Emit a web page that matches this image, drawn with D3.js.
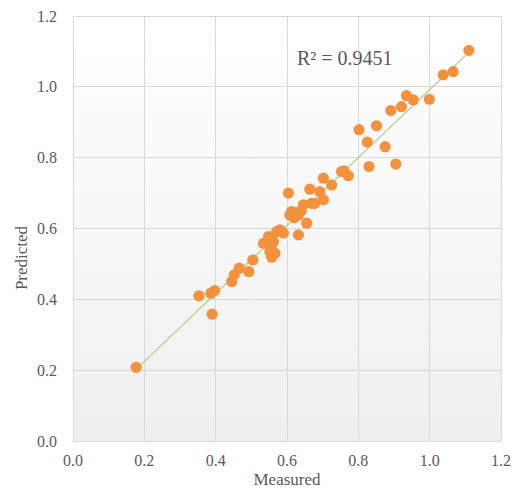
<!DOCTYPE html>
<html><head><meta charset="utf-8">
<script src="https://cdn.jsdelivr.net/npm/d3@7"></script>
<style>body{margin:0;background:#fff}svg{display:block}</style>
</head><body>
<svg id="c" width="513" height="490"></svg>
<script>
const measured = [
0.177, 0.353, 0.386, 0.397, 0.390, 0.445, 0.452, 0.466, 0.493, 0.504,
0.534, 0.548, 0.552, 0.557, 0.557, 0.562, 0.566, 0.571, 0.580, 0.590,
0.604, 0.608, 0.613, 0.620, 0.632, 0.632, 0.646, 0.655, 0.664, 0.669,
0.678, 0.692, 0.702, 0.702, 0.725, 0.753, 0.760, 0.772, 0.802, 0.825,
0.830, 0.851, 0.875, 0.891, 0.905, 0.921, 0.935, 0.954, 0.999, 1.038,
1.066, 1.110, 0.625, 0.640];
const predicted = [
0.208, 0.410, 0.417, 0.425, 0.358, 0.450, 0.469, 0.488, 0.478, 0.511,
0.558, 0.577, 0.535, 0.519, 0.540, 0.563, 0.530, 0.591, 0.596, 0.587,
0.700, 0.638, 0.648, 0.630, 0.638, 0.582, 0.667, 0.615, 0.711, 0.671,
0.671, 0.704, 0.742, 0.681, 0.723, 0.761, 0.763, 0.749, 0.879, 0.844,
0.775, 0.890, 0.831, 0.933, 0.782, 0.944, 0.975, 0.963, 0.965, 1.034,
1.043, 1.103, 0.645, 0.650];
const xTicks = [0, 0.2, 0.4, 0.6, 0.8, 1.0, 1.2];
const yTicks = [0, 0.2, 0.4, 0.6, 0.8, 1.0, 1.2];
const r2Label = "R² = 0.9451";
const xTitle = "Measured", yTitle = "Predicted";

const svg = d3.select("#c");
const L = 73, R = 501, T = 16, B = 441;
const x = d3.scaleLinear().domain([0, 1.2]).range([L, R]);
const y = d3.scaleLinear().domain([0, 1.2]).range([B, T]);
const font = "'Liberation Serif','Times New Roman',serif";

const defs = svg.append("defs");
const g = defs.append("linearGradient").attr("id","bg").attr("x1",0).attr("y1",0).attr("x2",0).attr("y2",1);
g.append("stop").attr("offset","0%").attr("stop-color","#ffffff");
g.append("stop").attr("offset","100%").attr("stop-color","#efefef");
svg.append("rect").attr("x",L).attr("y",T).attr("width",R-L).attr("height",B-T).attr("fill","url(#bg)");

svg.append("g").selectAll("line").data(xTicks).join("line")
  .attr("x1",d=>x(d)).attr("x2",d=>x(d)).attr("y1",T).attr("y2",B)
  .attr("stroke","#d9d9d9").attr("stroke-width",1).attr("shape-rendering","crispEdges");
svg.append("g").selectAll("line").data(yTicks).join("line")
  .attr("y1",d=>y(d)).attr("y2",d=>y(d)).attr("x1",L).attr("x2",R)
  .attr("stroke","#d9d9d9").attr("stroke-width",1).attr("shape-rendering","crispEdges");

svg.append("g").selectAll("text").data(xTicks).join("text")
  .attr("x",d=>x(d)).attr("y",466).attr("text-anchor","middle")
  .attr("font-family",font).attr("font-size",16).attr("fill","#595959")
  .text(d=>d.toFixed(1));
svg.append("g").selectAll("text").data(yTicks).join("text")
  .attr("x",57).attr("y",d=>y(d)+5.5).attr("text-anchor","end")
  .attr("font-family",font).attr("font-size",16).attr("fill","#595959")
  .text(d=>d.toFixed(1));

// linear trendline
const n = measured.length;
const mx = d3.mean(measured), my = d3.mean(predicted);
let sxy = 0, sxx = 0;
for (let i=0;i<n;i++){ sxy += (measured[i]-mx)*(predicted[i]-my); sxx += (measured[i]-mx)**2; }
const slope = sxy/sxx, icpt = my - slope*mx;
const x0 = d3.min(measured), x1 = d3.max(measured);
svg.append("line").attr("x1",x(x0)).attr("y1",y(icpt+slope*x0))
  .attr("x2",x(x1)).attr("y2",y(icpt+slope*x1))
  .attr("stroke","#b4cf8c").attr("stroke-width",1.2);

svg.append("g").selectAll("circle").data(measured).join("circle")
  .attr("cx",d=>x(d)).attr("cy",(d,i)=>y(predicted[i])).attr("r",5.6)
  .attr("fill","#f4913c");

svg.append("text").attr("x",297).attr("y",65).attr("font-family",font)
  .attr("font-size",20).attr("fill","#595959").text(r2Label);

svg.append("text").attr("x",(L+R)/2).attr("y",485).attr("text-anchor","middle")
  .attr("font-family",font).attr("font-size",17).attr("fill","#595959").text(xTitle);
svg.append("text").attr("transform","translate(27,258) rotate(-90)").attr("text-anchor","middle")
  .attr("font-family",font).attr("font-size",17).attr("fill","#595959").text(yTitle);
</script>
</body></html>
